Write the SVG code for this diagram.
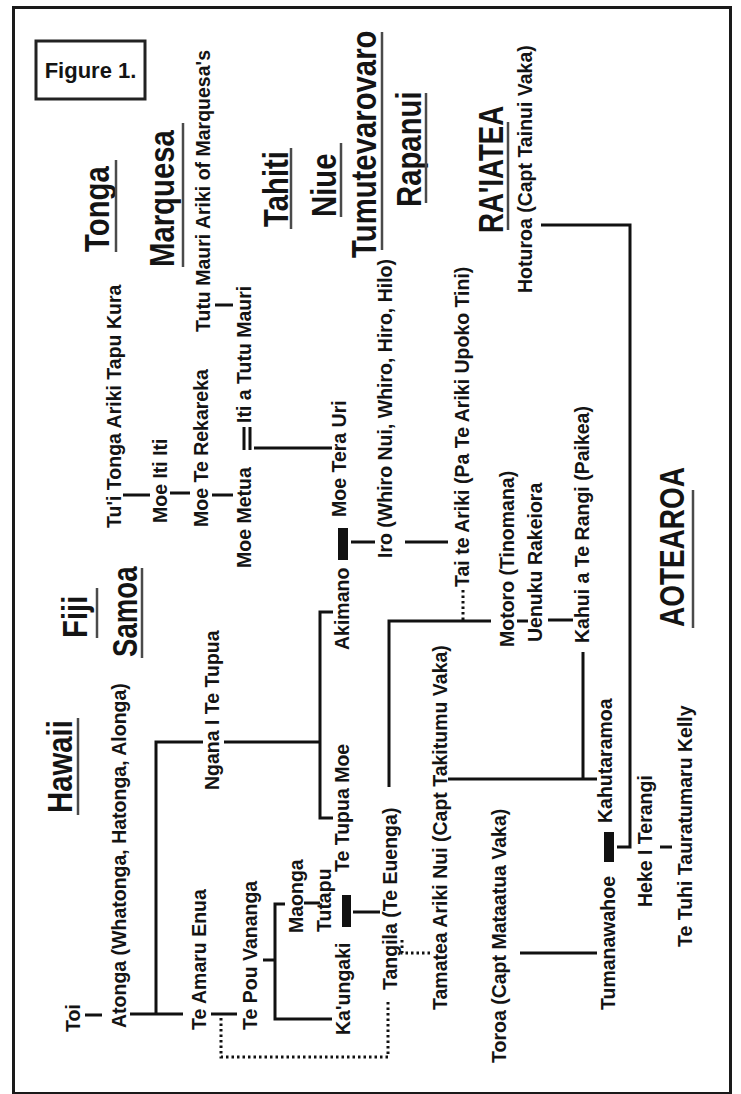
<svg xmlns="http://www.w3.org/2000/svg" width="741" height="1094" viewBox="0 0 741 1094">
<style>
text{font-family:"Liberation Sans",Arial,sans-serif;font-weight:bold;fill:#141414}
.h{font-size:34.5px}
.n{font-size:19.5px}
.ul{stroke:#4a4a4a;stroke-width:2.5;fill:none}
.c{stroke:#111;stroke-width:3;fill:none}
.d{stroke:#111;stroke-width:3;fill:none;stroke-dasharray:2.5 3}
.bar{fill:#111}
</style>
<rect x="0" y="0" width="741" height="1094" fill="#fff"/>
<rect x="13.5" y="7.5" width="717" height="1086" fill="#fff" stroke="#1a1a1a" stroke-width="3"/>
<g id="figure-label">
<rect x="36" y="41" width="109" height="58" fill="none" stroke="#222" stroke-width="3"/>
<text x="90.5" y="78" text-anchor="middle" font-size="22" fill="#333">Figure 1.</text>
</g>
<g id="headings">
<g id="h-tonga"><text class="h" transform="translate(109,252) rotate(-90) scale(0.85,1)">Tonga</text><line class="ul" x1="116" y1="160" x2="116" y2="252"/></g>
<g id="h-marquesa"><text class="h" font-size="35" transform="translate(174,267) rotate(-90) scale(0.85,1)">Marquesa</text><line class="ul" x1="183" y1="123" x2="183" y2="267"/></g>
<g id="h-tahiti"><text class="h" transform="translate(288,227) rotate(-90) scale(0.85,1)">Tahiti</text><line class="ul" x1="291" y1="148" x2="291" y2="229"/></g>
<g id="h-niue"><text class="h" transform="translate(336,217) rotate(-90) scale(0.85,1)">Niue</text><line class="ul" x1="341" y1="143" x2="341" y2="217"/></g>
<g id="h-tumu"><text class="h" transform="translate(376,258) rotate(-90) scale(0.85,1)">Tumutevarovaro</text><line class="ul" x1="382" y1="32" x2="382" y2="250"/></g>
<g id="h-rapanui"><text class="h" font-size="33" transform="translate(421,207) rotate(-90) scale(0.85,1)">Rapanui</text><line class="ul" x1="426" y1="93" x2="426" y2="203"/></g>
<g id="h-raiatea"><text class="h" font-size="30" transform="translate(503,233) rotate(-90) scale(0.8,1)">RA'IATEA</text><line class="ul" x1="508" y1="122" x2="508" y2="230"/></g>
<g id="h-hawaii"><text class="h" transform="translate(72,813) rotate(-90) scale(0.85,1)">Hawaii</text><line class="ul" x1="78" y1="718" x2="78" y2="815"/></g>
<g id="h-fiji"><text class="h" transform="translate(87,638) rotate(-90) scale(0.85,1)">Fiji</text><line class="ul" x1="97" y1="588" x2="97" y2="638"/></g>
<g id="h-samoa"><text class="h" font-size="33" transform="translate(137,657) rotate(-90) scale(0.8,1)">Samoa</text><line class="ul" x1="142" y1="568" x2="142" y2="658"/></g>
<g id="h-aotearoa"><text class="h" font-size="29" transform="translate(684,627) rotate(-90) scale(0.81,1)">AOTEAROA</text><line class="ul" x1="693" y1="490" x2="693" y2="628"/></g>
</g>
<g id="connectors">
<path class="c" d="M123,495 H150 M170,493 H190 M212,495 H233"/>
<path class="c" d="M215,305 H233"/>
<path class="c" d="M244,427 V450 M250,427 V450"/>
<path class="c" d="M254,448 H332"/>
<rect class="bar" x="338" y="528" width="10" height="32"/>
<path class="c" d="M351,542 H375 M405,542 H448"/>
<path class="d" d="M463,620 V590"/>
<path class="c" d="M389,787 V621 H491"/>
<path class="c" d="M517,621 H528 M548,620 H573"/>
<path class="c" d="M583,652 V779 M448,779 H597"/>
<path class="c" d="M85,1015 H102 M130,1014 H183"/>
<path class="c" d="M156,1014 V742 H203 M224,742 H320"/>
<path class="c" d="M333,612 H320 V818 H333"/>
<path class="c" d="M211,1014 H237"/>
<path class="d" d="M221,1018 V1057 H388 V1000"/>
<path class="c" d="M263,960 H275 M285,904 H275 V1019 H332"/>
<path class="c" stroke-width="2" d="M304,903 H320"/>
<rect class="bar" x="342" y="895" width="9" height="32"/>
<path class="c" d="M353,912 H380"/>
<path class="d" d="M402,940 V953 H432"/>
<path class="c" d="M520,953 H597"/>
<rect class="bar" x="604" y="832" width="10" height="30"/>
<path class="c" d="M541,225 H630 V847 H617"/>
<path class="c" d="M660,847 H672"/>
</g>
<g id="nodes">
<g id="n-tui"><text class="n" font-size="19.3" transform="translate(121,528) rotate(-90)">Tu'i Tonga Ariki Tapu Kura</text></g>
<g id="n-moeitiiti"><text class="n" font-size="18.5" transform="translate(167,523) rotate(-90)">Moe Iti Iti</text></g>
<g id="n-moerekareka"><text class="n" font-size="20" transform="translate(208,527) rotate(-90)">Moe Te Rekareka</text></g>
<g id="n-moemetua"><text class="n" font-size="19" transform="translate(251,568) rotate(-90)">Moe Metua</text></g>
<g id="n-itiatutu"><text class="n" font-size="19.8" transform="translate(251,423) rotate(-90)">Iti a Tutu Mauri</text></g>
<g id="n-tutumauri"><text class="n" font-size="20.5" transform="translate(210,332) rotate(-90)">Tutu Mauri Ariki of Marquesa's</text></g>
<g id="n-hoturoa"><text class="n" font-size="20.3" transform="translate(532,293) rotate(-90)">Hoturoa (Capt Tainui Vaka)</text></g>
<g id="n-moetera"><text class="n" font-size="18" transform="translate(346,517) rotate(-90)">Moe Tera Uri</text></g>
<g id="n-akimano"><text class="n" font-size="19" transform="translate(349,650) rotate(-90)">Akimano</text></g>
<g id="n-iro"><text class="n" font-size="19.2" transform="translate(392,558) rotate(-90)">Iro (Whiro Nui, Whiro, Hiro, Hilo)</text></g>
<g id="n-tai"><text class="n" font-size="19.6" transform="translate(469,587) rotate(-90)">Tai te Ariki (Pa Te Ariki Upoko Tini)</text></g>
<g id="n-motoro"><text class="n" transform="translate(514,647) rotate(-90)">Motoro (Tinomana)</text></g>
<g id="n-uenuku"><text class="n" font-size="20" transform="translate(542,642) rotate(-90)">Uenuku Rakeiora</text></g>
<g id="n-kahui"><text class="n" font-size="19.7" transform="translate(589,643) rotate(-90)">Kahui a Te Rangi (Paikea)</text></g>
<g id="n-kahutaramoa"><text class="n" font-size="20" transform="translate(612,823) rotate(-90)">Kahutaramoa</text></g>
<g id="n-ngana"><text class="n" font-size="19.6" transform="translate(219,790) rotate(-90)">Ngana I Te Tupua</text></g>
<g id="n-tetupuamoe"><text class="n" font-size="19.3" transform="translate(349,872) rotate(-90)">Te Tupua Moe</text></g>
<g id="n-tamatea"><text class="n" font-size="19.7" transform="translate(447,1010) rotate(-90)">Tamatea Ariki Nui (Capt Takitumu Vaka)</text></g>
<g id="n-tangila"><text class="n" transform="translate(397,990) rotate(-90)">Tangila (Te Euenga)</text></g>
<g id="n-kaungaki"><text class="n" font-size="18" transform="translate(350,1035) rotate(-90)">Ka'ungaki</text></g>
<g id="n-maonga"><text class="n" font-size="13" transform="translate(303,933) rotate(-90)">Maonga</text></g>
<g id="n-tutapu"><text class="n" font-size="12" transform="translate(331,932) rotate(-90)">Tutapu</text></g>
<g id="n-tepou"><text class="n" font-size="19.9" transform="translate(257,1030) rotate(-90)">Te Pou Vananga</text></g>
<g id="n-teamaru"><text class="n" transform="translate(206,1030) rotate(-90)">Te Amaru Enua</text></g>
<g id="n-atonga"><text class="n" font-size="18.9" transform="translate(126,1028) rotate(-90)">Atonga (Whatonga, Hatonga, Alonga)</text></g>
<g id="n-toi"><text class="n" font-size="18" transform="translate(80,1032) rotate(-90)">Toi</text></g>
<g id="n-toroa"><text class="n" font-size="19.6" transform="translate(506,1063) rotate(-90)">Toroa (Capt Mataatua Vaka)</text></g>
<g id="n-tumanawahoe"><text class="n" font-size="19.7" transform="translate(615,1010) rotate(-90)">Tumanawahoe</text></g>
<g id="n-heke"><text class="n" font-size="19.3" transform="translate(652,907) rotate(-90)">Heke I Terangi</text></g>
<g id="n-tetuhi"><text class="n" font-size="19.3" transform="translate(692,947) rotate(-90)">Te Tuhi Tauratumaru Kelly</text></g>
</g>
</svg>
